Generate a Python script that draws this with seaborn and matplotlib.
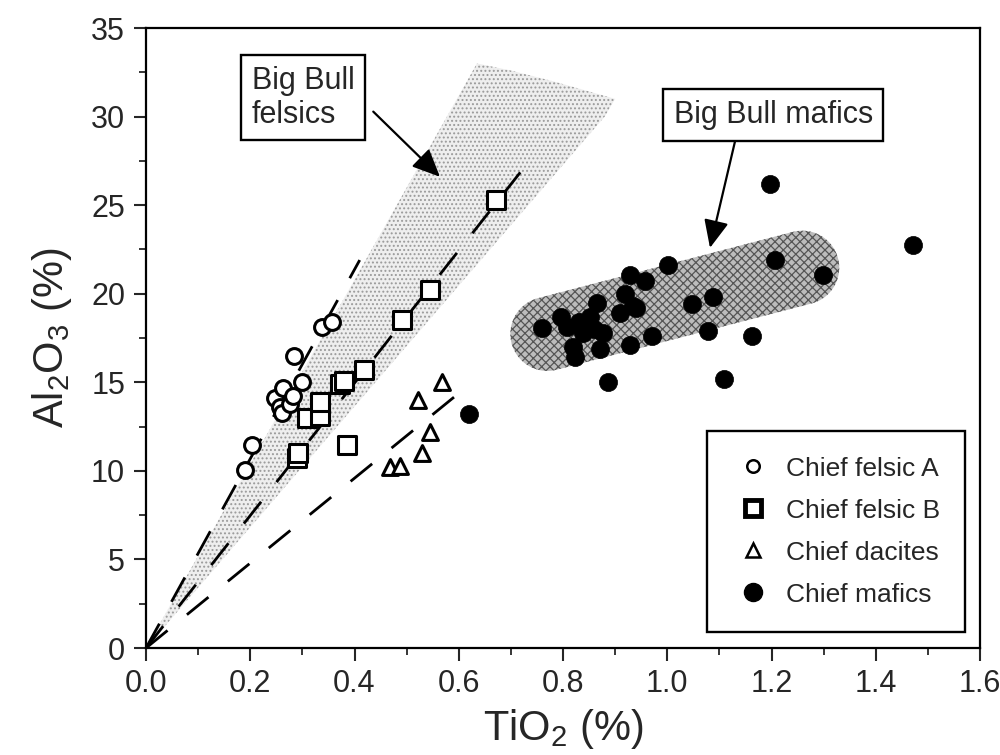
import numpy as np
import pandas as pd
import seaborn as sns
import matplotlib.pyplot as plt
from matplotlib.lines import Line2D
from matplotlib.ticker import MultipleLocator

# Chief felsic A (open circles)
felsic_a_ti = [0.190, 0.203, 0.247, 0.257, 0.260, 0.263, 0.276, 0.282, 0.283, 0.299, 0.337, 0.356]
felsic_a_al = [10.05, 11.45, 14.1, 13.6, 13.25, 14.7, 13.8, 14.2, 16.5, 15.0, 18.1, 18.4]

# Chief felsic B (open squares)
felsic_b_ti = [0.289, 0.292, 0.308, 0.333, 0.333, 0.372, 0.379, 0.385, 0.418, 0.492, 0.544, 0.671]
felsic_b_al = [10.7, 11.0, 12.97, 13.07, 13.9, 14.9, 15.1, 11.46, 15.7, 18.5, 20.2, 25.3]

# Chief dacites (open triangles)
dacite_ti = [0.468, 0.487, 0.529, 0.522, 0.545, 0.567]
dacite_al = [10.24, 10.3, 11.0, 14.0, 12.2, 15.04]

# Chief mafics (filled circles)
mafic_ti = [0.620, 0.759, 0.797, 0.807, 0.820, 0.823, 0.830, 0.838, 0.852, 0.860, 0.865,
            0.871, 0.877, 0.887, 0.909, 0.919, 0.929, 0.929, 0.934, 0.941, 0.957, 0.970,
            1.002, 1.047, 1.079, 1.088, 1.109, 1.162, 1.197, 1.207, 1.299, 1.472]
mafic_al = [13.2, 18.05, 18.7, 18.1, 17.0, 16.45, 18.4, 17.8, 18.7, 18.0, 19.5,
            16.9, 17.8, 15.04, 18.9, 20.0, 21.06, 17.1, 19.3, 19.2, 20.7, 17.6,
            21.6, 19.4, 17.9, 19.8, 15.2, 17.6, 26.2, 21.9, 21.06, 22.75]

# dashed trend lines from the origin
trend_ti = [[0.0, 0.41], [0.0, 0.718], [0.0, 0.605]]
trend_al = [[0.0, 21.9], [0.0, 26.85], [0.0, 14.5]]

# Big Bull felsics field (stippled wedge)
felsic_field_ti = [0.0, 0.635, 0.70, 0.78, 0.90, 0.88]
felsic_field_al = [0.0, 33.0, 32.6, 32.0, 31.0, 30.0]

# Big Bull mafics field (capsule centre line)
mafic_field_ti = [0.770, 1.259]
mafic_field_al = [17.73, 21.47]

sns.set_style('ticks')
plt.rcParams['font.family'] = ['Liberation Sans', 'DejaVu Sans']
plt.rcParams['mathtext.default'] = 'regular'
plt.rcParams['hatch.linewidth'] = 0.9

fig = plt.figure(figsize=(10, 7.55), dpi=100)
ax = fig.add_axes([0.146, 0.1417, 0.834, 0.8212])
ax.set_xlim(0, 1.6)
ax.set_ylim(0, 35)

# felsic field
ax.fill(felsic_field_ti, felsic_field_al, facecolor='#eeeeee', edgecolor='#9a9a9a',
        hatch='....', linewidth=0, zorder=1)

# mafic field: stadium shape built in pixel space so the round ends stay round
p0, p1 = ax.transData.transform(np.column_stack([mafic_field_ti, mafic_field_al]))
ang = np.arctan2(*(p1 - p0)[::-1])
r = 37
t1 = np.linspace(ang + np.pi / 2, ang + 3 * np.pi / 2, 40)
t2 = np.linspace(ang - np.pi / 2, ang + np.pi / 2, 40)
pts = np.vstack([p0 + r * np.column_stack([np.cos(t1), np.sin(t1)]),
                 p1 + r * np.column_stack([np.cos(t2), np.sin(t2)])])
poly = ax.transData.inverted().transform(pts)
ax.fill(poly[:, 0], poly[:, 1], facecolor='#bcbcbc', edgecolor='#555555',
        hatch='xxxx', linewidth=0, zorder=1)

for tx, ty in zip(trend_ti, trend_al):
    ax.plot(tx, ty, color='black', lw=2, linestyle=(0, (10, 9)), zorder=2)

sns.scatterplot(x=felsic_a_ti, y=felsic_a_al, marker='o', s=130, color='black',
                facecolor='white', edgecolor='black', linewidth=2.2, ax=ax, zorder=3)
sns.scatterplot(x=felsic_b_ti, y=felsic_b_al, marker='s', s=150, color='black',
                facecolor='white', edgecolor='black', linewidth=2.2, ax=ax, zorder=3)
sns.scatterplot(x=dacite_ti, y=dacite_al, marker='^', s=130, color='black',
                facecolor='white', edgecolor='black', linewidth=2.2, ax=ax, zorder=3)
sns.scatterplot(x=mafic_ti, y=mafic_al, marker='o', s=170, color='black',
                edgecolor='black', linewidth=0.5, ax=ax, zorder=3)

# annotation boxes and arrows
box = dict(boxstyle='square,pad=0.35', facecolor='white', edgecolor='black', linewidth=1.7)
ax.text(0.203, 32.85, 'Big Bull\nfelsics', fontsize=22, ha='left', va='top',
        linespacing=1.15, bbox=box, zorder=5)
ax.text(1.012, 30.1, 'Big Bull mafics', fontsize=22, ha='left', va='center',
        bbox=box, zorder=5)
arrow = dict(arrowstyle='-|>,head_length=0.85,head_width=0.38', color='black',
             lw=1.6, mutation_scale=20, shrinkA=0, shrinkB=0)
ax.annotate('', xy=(0.564, 26.6), xytext=(0.436, 30.28), arrowprops=arrow, zorder=4)
ax.annotate('', xy=(1.082, 22.59), xytext=(1.13, 28.6), arrowprops=arrow, zorder=4)

handles = [
    Line2D([], [], marker='o', ls='', ms=9, mfc='white', mec='black', mew=1.8),
    Line2D([], [], marker='s', ms=11, ls='', mfc='white', mec='black', mew=3.5),
    Line2D([], [], marker='^', ms=10, ls='', mfc='white', mec='black', mew=1.8),
    Line2D([], [], marker='o', ms=13, ls='', mfc='black', mec='black'),
]
labels = ['Chief felsic A', 'Chief felsic B', 'Chief dacites', 'Chief mafics']
leg = ax.legend(handles, labels, loc='lower right', bbox_to_anchor=(0.982, 0.026),
                borderaxespad=0, fontsize=19, frameon=True, fancybox=False,
                edgecolor='black', framealpha=1, borderpad=0.96, labelspacing=0.68,
                handlelength=1.5, handletextpad=0.5)
leg.get_frame().set_linewidth(1.7)
leg.set_zorder(6)

ax.xaxis.set_major_locator(MultipleLocator(0.2))
ax.xaxis.set_minor_locator(MultipleLocator(0.1))
ax.yaxis.set_major_locator(MultipleLocator(5))
ax.yaxis.set_minor_locator(MultipleLocator(2.5))
ax.xaxis.set_major_formatter(plt.FuncFormatter(lambda v, p: f'{v:.1f}'))
ax.yaxis.set_major_formatter(plt.FuncFormatter(lambda v, p: f'{v:.0f}'))
ax.tick_params(which='major', direction='out', length=9, width=1.5, labelsize=22, pad=6)
ax.tick_params(which='minor', direction='out', length=5, width=1.3)
for s in ax.spines.values():
    s.set_linewidth(1.6)
    s.set_color('black')

ax.set_xlabel('TiO$_2$ (%)', fontsize=30, labelpad=6)
ax.set_ylabel('Al$_2$O$_3$ (%)', fontsize=30, labelpad=12)

fig.savefig('out.png', dpi=100)
